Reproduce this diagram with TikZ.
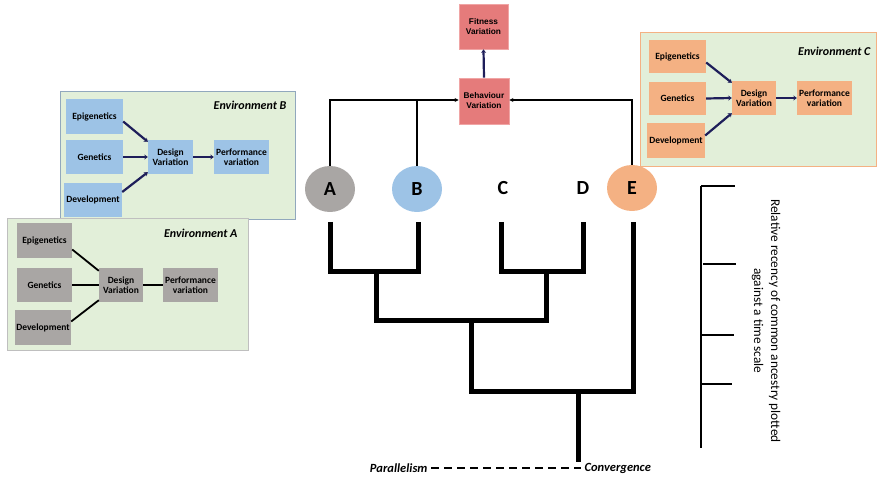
\documentclass[tikz,border=0pt]{standalone}
\usepackage{fontspec}
\setmainfont{Carlito}
\newfontfamily\arialf{Liberation Sans}
\usetikzlibrary{arrows.meta,shapes.geometric}
\definecolor{envfill}{HTML}{E2EFD9}
\definecolor{grayb}{HTML}{A9A6A4}
\definecolor{blueb}{HTML}{9DC3E6}
\definecolor{orangeb}{HTML}{F4B183}
\definecolor{redb}{HTML}{E57B7B}
\definecolor{redline}{HTML}{F0A5A5}
\definecolor{navy}{HTML}{1E1E5A}
\tikzset{
  envbox/.style={draw, line width=1pt, fill=envfill},
  envlabel/.style={anchor=east, font=\fontsize{12}{14}\selectfont\bfseries\itshape},
  fbox/.style={minimum height=34pt, inner sep=1pt, align=center, font=\fontsize{9.5}{10.5}\selectfont\bfseries},
  gbox/.style={fbox, fill=grayb},
  bbox/.style={fbox, fill=blueb},
  obox/.style={fbox, fill=orangeb},
  rbox/.style={draw=redline, line width=0.8pt, fill=redb, minimum width=49pt, minimum height=45pt, align=center, font=\arialf\fontsize{8.3}{10}\selectfont\bfseries},
  navyarrow/.style={navy, line width=2.2pt, -{Stealth[length=3.5pt,width=5pt]}},
  blackline/.style={black, line width=1.8pt},
  leaf/.style={ellipse, minimum width=50pt, minimum height=46pt, inner sep=0pt, font=\fontsize{20}{22}\selectfont\bfseries},
  leaftxt/.style={inner sep=0pt, font=\fontsize{20}{22}\selectfont\bfseries},
  connect/.style={black, line width=2.2pt},
  tree/.style={black, line width=5pt, line join=miter},
  scalebar/.style={black, line width=2pt},
  bottomlabel/.style={font=\fontsize{12.5}{14}\selectfont\bfseries\itshape}
}
\begin{document}
\begin{tikzpicture}[x=1pt,y=-1pt]
\useasboundingbox (0,0) rectangle (879,478);

% Environment B
\draw[envbox, draw=blueb!60!gray] (60,92) rectangle (295,220);
\node[envlabel] (labB) at (290,105) {Environment B};
\node[bbox, minimum width=57pt, minimum height=35pt] (Bepi) at (94.5,116.5) {Epigenetics};
\node[bbox, minimum width=57pt] (Bgen) at (94.5,157) {Genetics};
\node[bbox, minimum width=58pt] (Bdev) at (93,200) {Development};
\node[bbox, minimum width=45pt] (Bdes) at (170.5,157) {Design\\Variation};
\node[bbox, minimum width=55pt] (Bper) at (241.5,157) {Performance\\variation};
\draw[navyarrow] ([yshift=-5pt]Bepi.east) -- ([yshift=-2pt]Bdes.north west);
\draw[navyarrow] (Bgen.east) -- (Bdes.west);
\draw[navyarrow] ([yshift=8pt]Bdev.east) -- ([yshift=2pt]Bdes.south west);
\draw[navyarrow] (Bdes.east) -- (Bper.west);

% Environment A
\draw[envbox, draw=gray!50] (7,219) rectangle (248,351);
\node[envlabel] (labA) at (241,233) {Environment A};
\node[gbox, minimum width=55pt, minimum height=35pt] (Aepi) at (44.5,240.5) {Epigenetics};
\node[gbox, minimum width=55pt] (Agen) at (44.5,285) {Genetics};
\node[gbox, minimum width=56pt, minimum height=35pt] (Adev) at (43,327.5) {Development};
\node[gbox, minimum width=44pt] (Ades) at (121,285) {Design\\Variation};
\node[gbox, minimum width=55pt] (Aper) at (190.5,285) {Performance\\variation};
\draw[blackline] ([yshift=-9pt]Aepi.east) -- ([yshift=-3pt]Ades.north west);
\draw[blackline] (Agen.east) -- (Ades.west);
\draw[blackline] ([yshift=6pt]Adev.east) -- ([yshift=2pt]Ades.south west);
\draw[blackline] (Ades.east) -- (Aper.west);

% Environment C
\draw[envbox, draw=orangeb] (640,33) rectangle (876,167);
\node[envlabel] (labC) at (874,51) {Environment C};
\node[obox, minimum width=57pt, minimum height=33pt] (Cepi) at (677.5,56.5) {Epigenetics};
\node[obox, minimum width=57pt, minimum height=33pt] (Cgen) at (677.5,98.5) {Genetics};
\node[obox, minimum width=58pt, minimum height=35pt] (Cdev) at (676,140.5) {Development};
\node[obox, minimum width=44pt] (Cdes) at (754,98) {Design\\Variation};
\node[obox, minimum width=55pt] (Cper) at (824.5,98) {Performance\\variation};
\draw[navyarrow] ([yshift=-6pt]Cepi.east) -- ([yshift=-2pt]Cdes.north west);
\draw[navyarrow] (Cgen.east) -- (Cdes.west);
\draw[navyarrow] ([yshift=5pt]Cdev.east) -- ([yshift=2pt]Cdes.south west);
\draw[navyarrow] (Cdes.east) -- (Cper.west);

% Centre boxes
\node[rbox] (fit) at (483.5,26.5) {Fitness\\Variation};
\node[rbox, minimum width=50pt, minimum height=46pt] (beh) at (484,101) {Behaviour\\Variation};
\draw[navyarrow] (beh.north) -- (fit.south);

% Leaves
\node[leaf, fill=grayb] (A) at (330,189) {A};
\node[leaf, fill=blueb] (B) at (417,189) {B};
\node[leaf, fill=orangeb] (E) at (632,188) {E};
\node[leaftxt] (C) at (503,188) {C};
\node[leaftxt] (D) at (583,188) {D};

\draw[connect, -{Stealth[length=4pt,width=4pt]}] (A.north) |- ([yshift=1pt]beh.west);
\draw[connect] (B.north) -- (B.north |- 0,100);
\draw[connect, -{Stealth[length=4pt,width=4pt]}] (E.north) |- ([yshift=1pt]beh.east);

% Tree
\coordinate (tA) at (330,222);
\coordinate (tB) at (418,222);
\coordinate (tC) at (501,222);
\coordinate (tD) at (583,222);
\coordinate (tE) at (633,222);
\coordinate (ab) at (376,272);
\coordinate (cd) at (546,272);
\coordinate (abcd) at (471,321);
\coordinate (all) at (578,392);
\coordinate (root) at (578,462);
\draw[tree] (tA) -- (330,272) -- (418,272) -- (tB);
\draw[tree] (tC) -- (501,272) -- (583,272) -- (tD);
\draw[tree] (ab) -- (376,321) -- (546,321) -- (cd);
\draw[tree] (abcd) -- (471,392) -- (633,392) -- (tE);
\draw[tree] (all) -- (root);

% Bottom
\node[bottomlabel, anchor=east] (par) at (431,468) {Parallelism};
\node[bottomlabel, anchor=west] (con) at (581,468) {Convergence};
\draw[black, line width=1.5pt, dash pattern=on 8pt off 5pt] (par.east) -- (con.west);

% Scale
\coordinate (s0) at (701,186);
\coordinate (s1) at (701,448);
\draw[scalebar] (s0) -- (s1);
\draw[scalebar] (701,186) -- (735,186);
\draw[scalebar] (703,264) -- (736,264);
\draw[scalebar] (701,335) -- (734,335);
\draw[scalebar] (701,384) -- (732,384);
\node[rotate=-90, align=center, font=\fontsize{13.3}{17}\selectfont] (scaletxt) at (766,321) {Relative recency of common ancestry plotted\\against a time scale};
\end{tikzpicture}
\end{document}
